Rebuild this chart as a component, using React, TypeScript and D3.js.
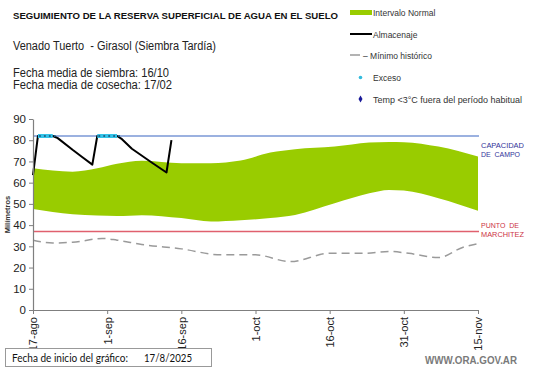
import { useEffect, useRef } from "react"
import * as d3 from "d3"

// fechas (día) y valores
const bandDates = [
  "2025-08-17", "2025-08-25", "2025-08-30", "2025-09-03", "2025-09-08", "2025-09-16",
  "2025-09-22", "2025-09-28", "2025-10-04", "2025-10-09", "2025-10-17", "2025-10-24",
  "2025-10-28", "2025-10-31", "2025-11-07", "2025-11-15",
]
const bandLower = [47.6, 45.1, 44.5, 44.3, 44.7, 43.3, 41.7, 42.3, 43.3, 44.8, 50.3, 55, 56.6, 56.3, 52.7, 46.8]
const bandUpper = [66.8, 65.2, 66.8, 68.9, 70.3, 69.2, 69.2, 70.4, 74.2, 75.8, 77, 78.9, 79.2, 79.1, 77, 72.3]

const storageDates = [
  "2025-08-17", "2025-08-18", "2025-08-21", "2025-08-22", "2025-08-25", "2025-08-27",
  "2025-08-29", "2025-08-30", "2025-09-03", "2025-09-04", "2025-09-06", "2025-09-10",
  "2025-09-13", "2025-09-14",
]
const storageValues = [63.5, 82, 82, 81, 75.5, 72, 68.5, 82, 82, 80.5, 76, 69.5, 64.8, 80]

const excessGroups = [
  ["2025-08-18", "2025-08-19", "2025-08-20", "2025-08-21"],
  ["2025-08-30", "2025-08-31", "2025-09-01", "2025-09-02", "2025-09-03"],
]
const excessValue = 82

const minDates = [
  "2025-08-17", "2025-08-21", "2025-08-25", "2025-08-31", "2025-09-03", "2025-09-08",
  "2025-09-16", "2025-09-24", "2025-10-01", "2025-10-08", "2025-10-16", "2025-10-23",
  "2025-10-28", "2025-11-01", "2025-11-07", "2025-11-12", "2025-11-15",
]
const minValues = [32.9, 31.6, 31.9, 33.7, 32.9, 30.9, 28.8, 26, 26, 22.8, 26.7, 26.7, 27.6, 26.7, 24.7, 29.6, 31.2]

const fieldCapacity = 82
const wiltingPoint = 37

const xTickDates = ["2025-08-17", "2025-09-01", "2025-09-16", "2025-10-01", "2025-10-16", "2025-10-31", "2025-11-15"]
const xTickLabels = ["17-ago", "1-sep", "16-sep", "1-oct", "16-oct", "31-oct", "15-nov"]
const yTicks = [0, 10, 20, 30, 40, 50, 60, 70, 80, 90]

const parse = d3.timeParse("%Y-%m-%d")
const FONT = "'Liberation Sans', Arial, sans-serif"

export default function App() {
  const svgRef = useRef<SVGSVGElement>(null)

  useEffect(() => {
    if (!svgRef.current) return
    const width = 541
    const height = 368
    const svg = d3.select(svgRef.current).attr("width", width).attr("height", height)
    svg.selectAll("*").remove()

    const x = d3
      .scaleTime()
      .domain([parse("2025-08-17") as Date, parse("2025-11-15") as Date])
      .range([33, 478])
    const y = d3.scaleLinear().domain([0, 90]).range([310, 119])

    // Intervalo normal
    const band = bandDates.map((d, i) => ({ date: parse(d) as Date, lo: bandLower[i], hi: bandUpper[i] }))
    const area = d3
      .area<{ date: Date; lo: number; hi: number }>()
      .x((d) => x(d.date))
      .y0((d) => y(d.lo))
      .y1((d) => y(d.hi))
      .curve(d3.curveMonotoneX)
    svg.append("path").datum(band).attr("fill", "#99cc00").attr("d", area)

    // capacidad de campo / punto de marchitez
    const x0 = x.range()[0]
    const x1 = x.range()[1] + 1
    svg
      .append("line")
      .attr("x1", x0)
      .attr("x2", x1)
      .attr("y1", y(fieldCapacity))
      .attr("y2", y(fieldCapacity))
      .attr("stroke", "#7a97d6")
      .attr("stroke-width", 1.3)
    svg
      .append("line")
      .attr("x1", x0)
      .attr("x2", x1)
      .attr("y1", y(wiltingPoint))
      .attr("y2", y(wiltingPoint))
      .attr("stroke", "#e0606e")
      .attr("stroke-width", 1.5)

    // mínimo histórico
    const minData = minDates.map((d, i) => ({ date: parse(d) as Date, v: minValues[i] }))
    const line = d3
      .line<{ date: Date; v: number }>()
      .x((d) => x(d.date))
      .y((d) => y(d.v))
    svg
      .append("path")
      .datum(minData)
      .attr("fill", "none")
      .attr("stroke", "#9a9a9a")
      .attr("stroke-width", 1.5)
      .attr("stroke-dasharray", "8,5")
      .attr("d", line.curve(d3.curveMonotoneX))

    // almacenaje
    const storage = storageDates.map((d, i) => ({ date: parse(d) as Date, v: storageValues[i] }))
    svg
      .append("path")
      .datum(storage)
      .attr("fill", "none")
      .attr("stroke", "#000")
      .attr("stroke-width", 2)
      .attr("stroke-linejoin", "round")
      .attr("d", line.curve(d3.curveLinear))

    // exceso
    excessGroups.forEach((g) => {
      const pts = g.map((d) => ({ date: parse(d) as Date, v: excessValue }))
      svg
        .append("path")
        .datum(pts)
        .attr("fill", "none")
        .attr("stroke", "#33c3e8")
        .attr("stroke-width", 4)
        .attr("d", line.curve(d3.curveLinear))
      svg
        .append("g")
        .selectAll("circle")
        .data(pts)
        .join("circle")
        .attr("cx", (d) => x(d.date) + 2)
        .attr("cy", (d) => y(d.v))
        .attr("r", 1.1)
        .attr("fill", "#1f5f86")
    })

    // ejes
    const yAxis = svg
      .append("g")
      .attr("transform", `translate(${x0},0)`)
      .call(d3.axisLeft(y).tickValues(yTicks).tickSize(4).tickPadding(3).tickSizeOuter(0))
    yAxis.select(".domain").attr("stroke", "#7f7f7f").attr("stroke-width", 1.2)
    yAxis.selectAll(".tick line").attr("stroke", "#7f7f7f")
    yAxis.selectAll("text").attr("font-family", FONT).attr("font-size", "11.5px").attr("fill", "#222")

    const xAxis = svg
      .append("g")
      .attr("transform", `translate(0,${y(0)})`)
      .call(
        d3
          .axisBottom(x)
          .tickValues(xTickDates.map((d) => parse(d) as Date))
          .tickSize(4)
          .tickSizeOuter(0)
          .tickFormat((_, i) => xTickLabels[i]),
      )
    xAxis.select(".domain").attr("stroke", "#7f7f7f").attr("stroke-width", 1.2)
    xAxis.selectAll(".tick line").attr("stroke", "#7f7f7f")
    xAxis
      .selectAll("text")
      .attr("font-family", FONT)
      .attr("font-size", "11px")
      .attr("fill", "#222")
      .attr("text-anchor", "end")
      .attr("transform", "rotate(-90)")
      .attr("x", -7)
      .attr("y", 0)
      .attr("dy", "0.35em")

    svg
      .append("text")
      .attr("transform", `translate(10,${y(45)}) rotate(-90)`)
      .attr("text-anchor", "middle")
      .attr("font-family", FONT)
      .attr("font-size", "7.5px")
      .attr("font-weight", "bold")
      .attr("fill", "#333")
      .text("Milímetros")

    // rótulos a la derecha
    const side = (t: string, yy: number, w: number, c: string) =>
      svg
        .append("text")
        .attr("x", 481)
        .attr("y", yy)
        .attr("font-family", FONT)
        .attr("font-size", "8px")
        .attr("fill", c)
        .attr("textLength", w)
        .attr("lengthAdjust", "spacingAndGlyphs")
        .style("white-space", "pre")
        .text(t)
    side("CAPACIDAD", 148, 43, "#333399")
    side("DE  CAMPO", 157, 39, "#333399")
    side("PUNTO  DE", 227.5, 38, "#cc3344")
    side("MARCHITEZ", 236.5, 43, "#cc3344")

    // encabezado
    const txt = (
      t: string,
      xx: number,
      yy: number,
      size: number,
      w: number | null,
      opts: { bold?: boolean; fill?: string; font?: string } = {},
    ) => {
      const el = svg
        .append("text")
        .attr("x", xx)
        .attr("y", yy)
        .attr("font-family", opts.font ?? FONT)
        .attr("font-size", `${size}px`)
        .attr("font-weight", opts.bold ? "bold" : "normal")
        .attr("fill", opts.fill ?? "#111")
        .style("white-space", "pre")
        .text(t)
      if (w) el.attr("textLength", w).attr("lengthAdjust", "spacingAndGlyphs")
      return el
    }

    txt("SEGUIMIENTO DE LA RESERVA SUPERFICIAL DE AGUA EN EL SUELO", 13, 19, 9.5, 325, { bold: true })
    txt("Venado Tuerto  - Girasol (Siembra Tardía)", 13, 50, 12.5, 203, { fill: "#222" })
    txt("Fecha media de siembra: 16/10", 13, 76.5, 12, 156, { fill: "#222" })
    txt("Fecha media de cosecha: 17/02", 13, 89, 12, 159, { fill: "#222" })

    // leyenda
    svg.append("rect").attr("x", 350).attr("y", 10).attr("width", 22).attr("height", 5).attr("fill", "#99cc00")
    txt("Intervalo Normal", 373, 16, 8.5, null, { fill: "#333" })
    svg.append("line").attr("x1", 350).attr("x2", 372).attr("y1", 34).attr("y2", 34).attr("stroke", "#000").attr("stroke-width", 2)
    txt("Almacenaje", 373, 37.5, 8.5, null, { fill: "#333" })
    svg.append("line").attr("x1", 350).attr("x2", 360).attr("y1", 55).attr("y2", 55).attr("stroke", "#9a9a9a").attr("stroke-width", 1.5)
    txt("– Mínimo histórico", 363, 58.5, 8.5, null, { fill: "#333" })
    svg.append("circle").attr("cx", 360.5).attr("cy", 77.5).attr("r", 1.8).attr("fill", "#33bbdd")
    txt("Exceso", 373, 81, 8.5, null, { fill: "#333" })
    svg
      .append("path")
      .attr("d", d3.symbol(d3.symbolDiamond, 14)())
      .attr("transform", "translate(360.5,99)")
      .attr("fill", "#1a1a99")
    txt("Temp <3°C fuera del período habitual", 373, 102.5, 8.5, 149, { fill: "#333" })

    // pie
    svg
      .append("rect")
      .attr("x", 5.5)
      .attr("y", 348.5)
      .attr("width", 206)
      .attr("height", 18)
      .attr("fill", "#fff")
      .attr("stroke", "#999")
    txt("Fecha de inicio del gráfico:", 12, 362, 11, 116, { font: "Lato, 'Open Sans', sans-serif" })
    txt("17/8/2025", 144, 362, 11, 48, { font: "Lato, 'Open Sans', sans-serif" })
    txt("WWW.ORA.GOV.AR", 425, 364, 10.5, 92, { bold: true, fill: "#7a7a7a" })
  }, [])

  return (
    <div style={{ position: "fixed", left: 0, top: 0, background: "#fff" }}>
      <svg ref={svgRef} style={{ display: "block" }} />
    </div>
  )
}
